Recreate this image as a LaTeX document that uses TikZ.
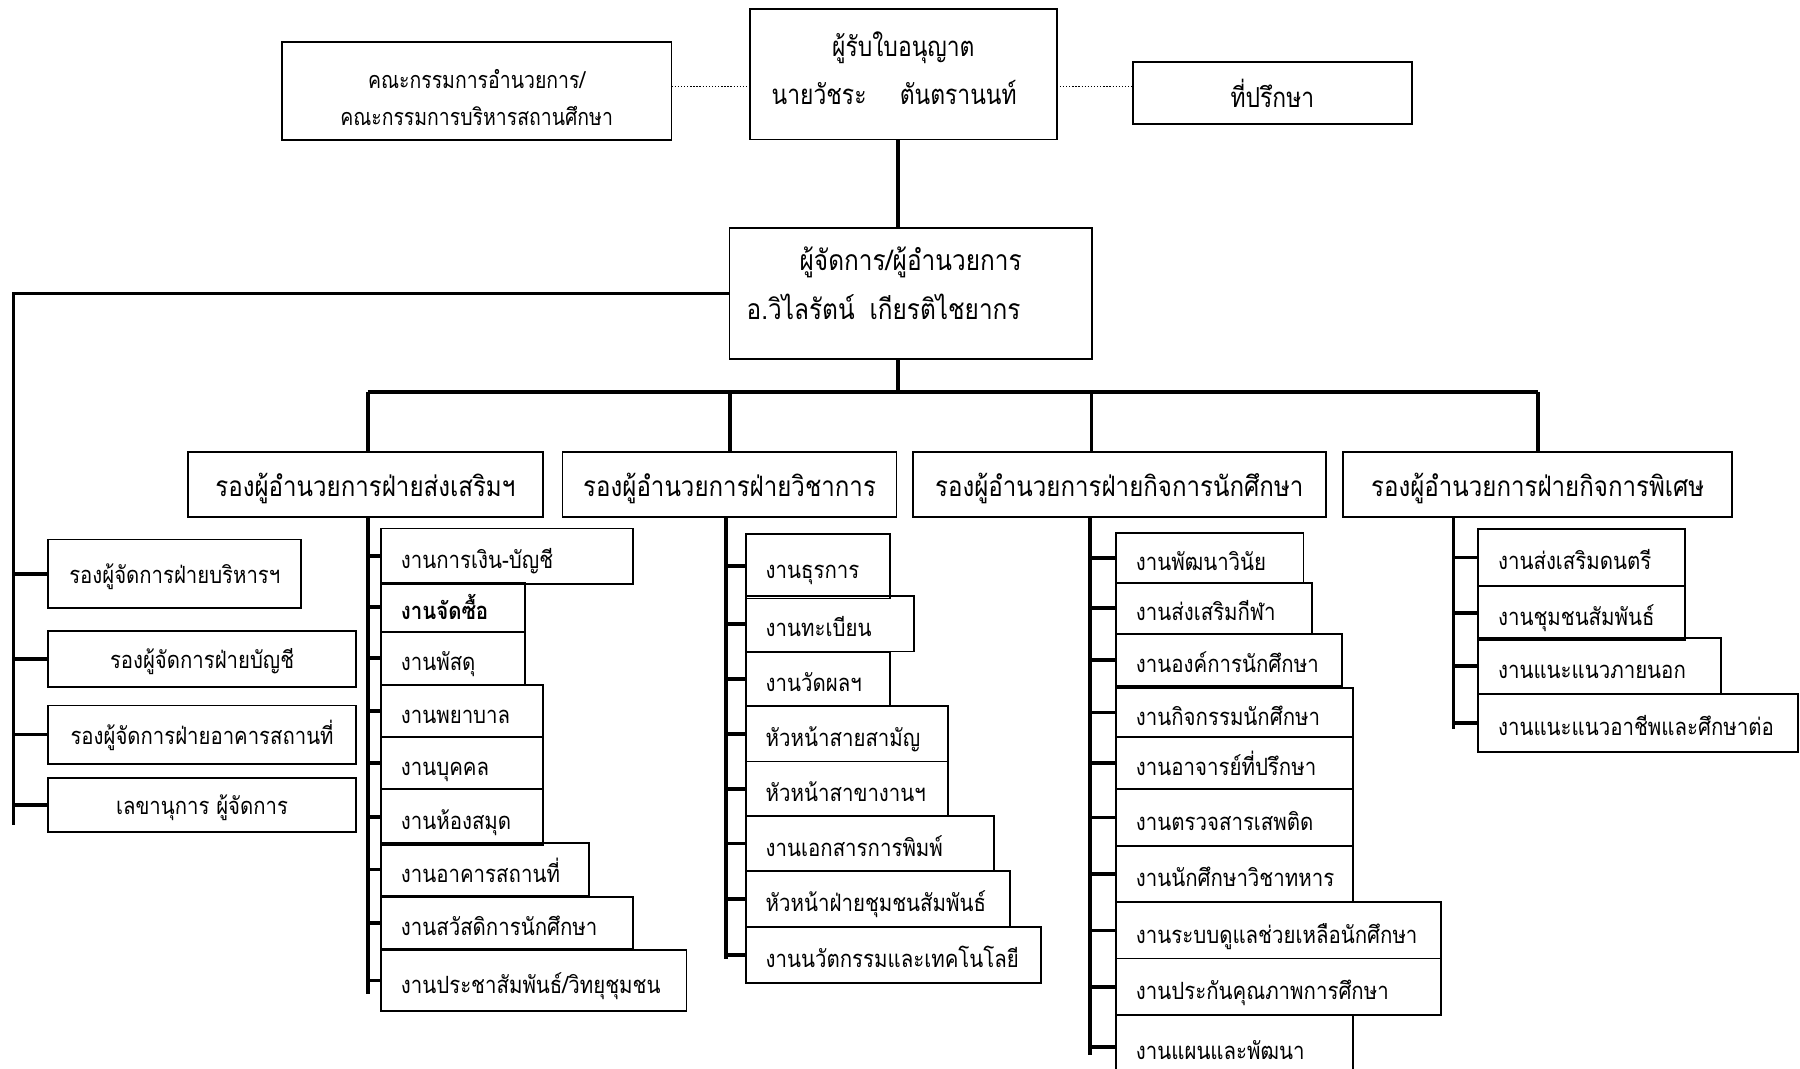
\documentclass[tikz,border=0pt]{standalone}
\usepackage{fontspec}
\setmainfont[Script=Thai, FakeStretch=0.86]{Loma}
\newfontfamily\angs[Script=Thai, FakeStretch=0.83]{Loma}
\usetikzlibrary{calc}
\tikzset{
  bx/.style={draw, line width=1.6pt, inner sep=0pt, outer sep=0pt},
  ctr/.style={bx, align=center},
  lst/.style={bx, align=left, inner xsep=17.5pt, inner ysep=0pt,
    font=\fontsize{20.7}{24}\selectfont, text height=24pt, text depth=2pt},
  dep/.style={font=\fontsize{24.4}{28}\selectfont, text height=23.4pt, text depth=2pt},
  lft/.style={font=\fontsize{20.6}{24}\selectfont, text height=19pt, text depth=2pt},
  conn/.style={line width=3.2pt},
  dots/.style={line width=1.2pt, dash pattern=on 1.2pt off 1.5pt},
}
\newcommand\mkC[7]{%
  \pgfmathsetmacro\mybw{#4-#2}\pgfmathsetmacro\mybh{#5-#3}%
  \node[ctr, anchor=north west, minimum width=\mybw pt, minimum height=\mybh pt, #6] (#1) at (#2,#3) {#7};}
\newcommand\mkL[6]{%
  \pgfmathsetmacro\mytw{#4-#2-35}\pgfmathsetmacro\mybh{#5-#3}%
  \node[lst, anchor=north west, text width=\mytw pt, minimum height=\mybh pt] (#1) at (#2,#3) {#6};}
\begin{document}
\begin{tikzpicture}[x=1pt, y=-1pt]
\useasboundingbox (0,0) rectangle (1568,931);
% top level
\mkC{lic}{653.3}{8}{920.5}{121.5}{text width=267pt, font=\angs\fontsize{24}{41.2}\selectfont, text height=12.5pt, text depth=43.2pt}{ผู้รับใบอนุญาต\\นายวัชระ\hspace{29pt}ตันตรานนท์\hspace*{16pt}\mbox{}}
\mkC{com}{245.4}{36.3}{585}{122}{font=\angs\fontsize{20.4}{32}\selectfont, text height=61.8pt, text depth=2pt}{คณะกรรมการอำนวยการ/\\คณะกรรมการบริหารสถานศึกษา}
\mkC{adv}{986.8}{53.7}{1230}{108}{font=\angs\fontsize{24}{28}\selectfont, text height=27.3pt, text depth=2pt}{ที่ปรึกษา}
\mkC{dir}{635.5}{198.9}{951}{312.5}{text width=315.5pt, font=\fontsize{24.7}{43.5}\selectfont, text height=4.5pt, text depth=45.5pt}{ผู้จัดการ/ผู้อำนวยการ\\อ.วิไลรัตน์\hspace{13pt}เกียรติไชยากร\hspace*{47pt}\mbox{}}
% deputies
\mkC{d1}{163.5}{394}{473}{450}{dep}{รองผู้อำนวยการฝ่ายส่งเสริมฯ}
\mkC{d2}{490}{394}{781}{450}{dep}{รองผู้อำนวยการฝ่ายวิชาการ}
\mkC{d3}{795}{394}{1155}{450}{dep}{รองผู้อำนวยการฝ่ายกิจการนักศึกษา}
\mkC{d4}{1170}{394}{1509}{450}{dep}{รองผู้อำนวยการฝ่ายกิจการพิเศษ}
% left group
\mkC{l1}{42}{470}{262.5}{529.6}{lft}{รองผู้จัดการฝ่ายบริหารฯ}
\mkC{l2}{42}{549.5}{310}{598.3}{lft}{รองผู้จัดการฝ่ายบัญชี}
\mkC{l3}{42}{614.5}{310}{665.2}{lft}{รองผู้จัดการฝ่ายอาคารสถานที่}
\mkC{l4}{42}{677.4}{310}{724.7}{lft}{เลขานุการ ผู้จัดการ}
% list 1
\mkL{a1}{331.7}{460.4}{551.4}{508.5}{งานการเงิน-บัญชี}
\mkL{a2}{331.7}{507.9}{457}{550.2}{\bfseries งานจัดซื้อ}
\mkL{a3}{331.7}{550.2}{457}{596.5}{งานพัสดุ}
\mkL{a4}{331.7}{596.9}{473}{642.3}{งานพยาบาล}
\mkL{a5}{331.7}{642.3}{473}{687.5}{งานบุคคล}
\mkL{a6}{331.7}{687.5}{473}{736.3}{งานห้องสมุด}
\mkL{a7}{331.7}{734.2}{513.3}{780.8}{งานอาคารสถานที่}
\mkL{a8}{331.7}{781.6}{551.4}{826.7}{งานสวัสดิการนักศึกษา}
\mkL{a9}{331.7}{827.5}{598}{881}{งานประชาสัมพันธ์/วิทยุชุมชน}
% list 2
\mkL{b1}{649.5}{465.3}{775.3}{521.3}{งานธุรการ}
\mkL{b2}{649.5}{519.5}{795.9}{567.5}{งานทะเบียน}
\mkL{b3}{649.5}{568}{775.3}{615.2}{งานวัดผลฯ}
\mkL{b4}{649.5}{615.2}{826}{663.3}{หัวหน้าสายสามัญ}
\mkL{b5}{649.5}{663.3}{826}{711}{หัวหน้าสาขางานฯ}
\mkL{b6}{649.5}{711}{866}{758.7}{งานเอกสารการพิมพ์}
\mkL{b7}{649.5}{758.7}{879.8}{807.5}{หัวหน้าฝ่ายชุมชนสัมพันธ์}
\mkL{b8}{649.5}{807.5}{906.5}{856.3}{งานนวัตกรรมและเทคโนโลยี}
% list 3
\mkL{c1}{972}{464.5}{1135.5}{507.6}{งานพัฒนาวินัย}
\mkL{c2}{972}{507.6}{1142.8}{552}{งานส่งเสริมกีฬา}
\mkL{c3}{972}{552}{1168.7}{597.9}{งานองค์การนักศึกษา}
\mkL{c4}{972}{599}{1178.7}{642.3}{งานกิจกรรมนักศึกษา}
\mkL{c5}{972}{642.3}{1178.7}{687.5}{งานอาจารย์ที่ปรึกษา}
\mkL{c6}{972}{687.5}{1178.7}{737}{งานตรวจสารเสพติด}
\mkL{c7}{972}{737}{1178.7}{786}{งานนักศึกษาวิชาทหาร}
\mkL{c8}{972}{786}{1255.5}{835}{งานระบบดูแลช่วยเหลือนักศึกษา}
\mkL{c9}{972}{835}{1255.5}{884}{งานประกันคุณภาพการศึกษา}
\mkL{c10}{972}{884}{1178.7}{940}{งานแผนและพัฒนา}
% list 4
\mkL{e1}{1287.5}{460.6}{1467.5}{510.4}{งานส่งเสริมดนตรี}
\mkL{e2}{1287.5}{510.4}{1467.5}{557.4}{งานชุมชนสัมพันธ์}
\mkL{e3}{1287.5}{555.5}{1499.5}{604.4}{งานแนะแนวภายนอก}
\mkL{e4}{1287.5}{604.4}{1566}{655}{งานแนะแนวอาชีพและศึกษาต่อ}
% connectors
\coordinate (dotY) at (0,75.5);
\draw[dots] (com.east |- dotY) -- (lic.west |- dotY);
\draw[dots] (lic.east |- dotY) -- (adv.west |- dotY);
\coordinate (spine) at (782,0);
\draw[conn] (lic.south -| spine) -- (dir.north -| spine);
\coordinate (leftend) at (11.7,718.3);
\draw[conn] (dir.west) -- (dir.west -| leftend) -- (leftend);
\foreach \n in {l1,l2,l3,l4} \draw[conn] (\n.west -| leftend) -- (\n.west);
\coordinate (barY) at (0,341.2);
\coordinate (x1) at (320.4,0);
\coordinate (x2) at (635.8,0);
\coordinate (x3) at (950.7,0);
\coordinate (x4) at (1339.6,0);
\draw[conn] (dir.south -| spine) -- (spine |- barY);
\draw[conn] (x1 |- barY) -- (x4 |- barY);
\draw[conn] (x1 |- barY) -- (d1.north -| x1);
\draw[conn] (x2 |- barY) -- (d2.north -| x2);
\draw[conn] (x3 |- barY) -- (d3.north -| x3);
\draw[conn] (x4 |- barY) -- (d4.north -| x4);
\coordinate (v1) at (320.4,866);
\coordinate (v2) at (632.4,835.7);
\coordinate (v3) at (949.5,919);
\coordinate (v4) at (1266,635);
\draw[conn] (d1.south -| v1) -- (v1);
\draw[conn] (d2.south -| v2) -- (v2);
\draw[conn] (d3.south -| v3) -- (v3);
\draw[conn] (d4.south -| v4) -- (v4);
\foreach \n in {a1,a2,a3,a4,a5,a6,a7,a8,a9} \draw[conn] (\n.west -| v1) -- (\n.west);
\foreach \n in {b1,b2,b3,b4,b5,b6,b7,b8} \draw[conn] (\n.west -| v2) -- (\n.west);
\foreach \n in {c1,c2,c3,c4,c5,c6,c7,c8,c9,c10} \draw[conn] (\n.west -| v3) -- (\n.west);
\foreach \n in {e1,e2,e3,e4} \draw[conn] (\n.west -| v4) -- (\n.west);
\end{tikzpicture}
\end{document}
